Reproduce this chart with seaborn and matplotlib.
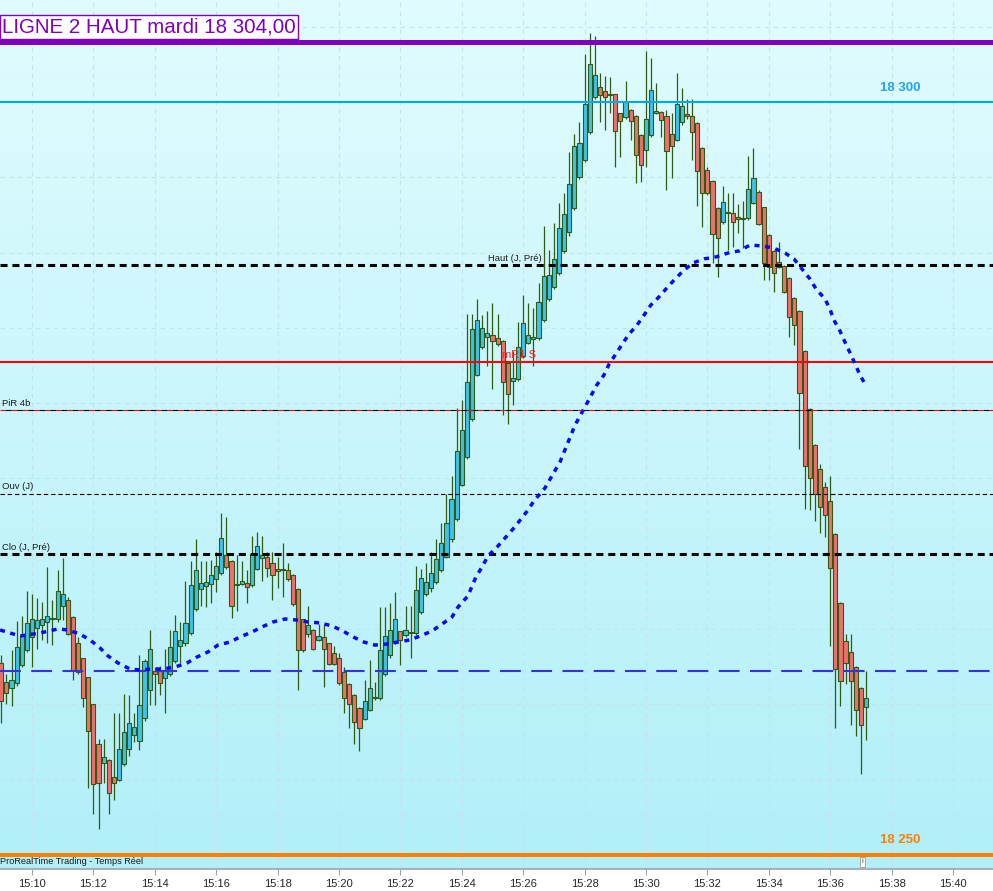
import numpy as np
import pandas as pd
import matplotlib
matplotlib.use("Agg")
import matplotlib.pyplot as plt
import seaborn as sns
from matplotlib.colors import LinearSegmentedColormap
from matplotlib.ticker import FixedLocator, FuncFormatter

# 10 second candles, first one at 15:09:00 (x axis in minutes after 15:00)
START_MIN = 9.0
STEP_MIN = 10 / 60

opens = [
    18262.75, 18261.5, 18261.1, 18261.4, 18262.6, 18263.6, 18264.5, 18265.05, 18265.3, 18265.5,
    18265.65, 18265.65, 18266.55, 18266.95, 18265.8, 18264.05, 18263.05, 18261.8, 18260.0, 18257.35,
    18256.1, 18256.3, 18255.15, 18255.0, 18256.05, 18257.05, 18257.95, 18257.6, 18259.1, 18260.95,
    18262.25, 18262.2, 18261.75, 18262.0, 18262.85, 18263.85, 18264.1, 18264.75, 18266.35, 18267.65,
    18267.85, 18268.0, 18268.3, 18268.75, 18269.95, 18269.55, 18268.0, 18268.0, 18268.05, 18267.9,
    18269.0, 18269.75, 18269.8, 18269.4, 18269.0, 18268.95, 18268.95, 18268.6, 18267.65, 18265.65,
    18264.65, 18264.95, 18264.3, 18264.45, 18264.05, 18263.4, 18263.05, 18262.15, 18261.35, 18260.65,
    18259.75, 18259.05, 18259.65, 18260.4, 18260.4, 18262.0, 18263.25, 18264.1, 18264.85, 18264.6,
    18264.75, 18264.75, 18266.15, 18267.3, 18267.7, 18268.15, 18268.95, 18269.8, 18270.95, 18272.3,
    18274.6, 18276.4, 18278.95, 18281.9, 18283.7, 18284.4, 18284.5, 18284.3, 18284.1, 18282.65,
    18281.5, 18281.6, 18283.1, 18284.0, 18284.25, 18284.3, 18285.55, 18286.95, 18287.7, 18288.65,
    18290.1, 18291.35, 18292.95, 18295.0, 18296.15, 18298.0, 18300.3, 18301.0, 18300.75, 18300.5,
    18300.5, 18299.25, 18299.0, 18299.45, 18299.1, 18297.8, 18296.8, 18297.8, 18299.3, 18299.35,
    18299.05, 18297.85, 18297.5, 18298.65, 18299.2, 18299.1, 18298.6, 18296.95, 18295.5, 18294.75,
    18292.95, 18292.0, 18292.7, 18292.6, 18292.35, 18292.25, 18292.3, 18293.3, 18294.05, 18293.0,
    18291.15, 18290.1, 18289.4, 18289.1, 18288.3, 18287.0, 18286.15, 18283.45, 18279.6, 18277.25,
    18275.6, 18274.45, 18273.5, 18271.3, 18266.75, 18264.2, 18263.5, 18262.5, 18261.1, 18259.85,
]
highs = [
    18263.25, 18262.0, 18263.6, 18265.55, 18265.9, 18267.5, 18267.35, 18267.05, 18266.8, 18269.15,
    18266.9, 18268.9, 18269.7, 18267.15, 18265.9, 18264.5, 18263.1, 18261.85, 18260.05, 18257.7,
    18257.7, 18256.4, 18259.4, 18259.4, 18260.7, 18260.6, 18259.45, 18263.25, 18263.0, 18264.95,
    18262.45, 18262.55, 18263.7, 18264.95, 18265.95, 18265.5, 18268.2, 18269.5, 18270.95, 18269.5,
    18269.5, 18269.6, 18270.15, 18272.7, 18272.45, 18269.6, 18269.95, 18269.5, 18268.95, 18271.2,
    18271.45, 18271.2, 18270.15, 18270.15, 18269.8, 18270.7, 18269.4, 18268.65, 18267.7, 18265.7,
    18266.5, 18265.0, 18265.35, 18265.35, 18264.1, 18263.85, 18263.4, 18262.5, 18261.4, 18260.7,
    18259.85, 18261.65, 18262.95, 18261.5, 18266.45, 18266.45, 18266.7, 18267.45, 18264.9, 18266.5,
    18266.5, 18269.2, 18269.0, 18269.4, 18270.15, 18270.95, 18272.05, 18274.0, 18275.15, 18279.65,
    18280.2, 18285.95, 18285.95, 18286.9, 18285.85, 18286.15, 18286.65, 18285.95, 18284.2, 18282.7,
    18283.45, 18285.4, 18287.2, 18286.65, 18286.3, 18287.95, 18291.75, 18290.2, 18291.95, 18293.3,
    18293.95, 18296.7, 18297.9, 18298.7, 18303.2, 18304.6, 18304.4, 18301.9, 18301.7, 18301.65,
    18300.55, 18299.3, 18301.4, 18299.5, 18299.15, 18297.85, 18303.4, 18302.95, 18301.25, 18299.4,
    18299.45, 18299.25, 18301.9, 18300.9, 18300.2, 18300.2, 18298.65, 18297.0, 18295.65, 18294.8,
    18293.0, 18294.45, 18293.95, 18293.95, 18293.25, 18293.45, 18296.4, 18296.95, 18294.15, 18293.05,
    18291.2, 18290.15, 18290.7, 18289.2, 18288.35, 18287.05, 18286.2, 18283.5, 18279.65, 18277.3,
    18275.95, 18274.75, 18275.15, 18271.35, 18266.8, 18264.7, 18264.7, 18262.55, 18261.15, 18262.2,
]
lows = [
    18258.75, 18260.0, 18259.9, 18261.25, 18262.5, 18263.5, 18262.5, 18263.7, 18264.25, 18264.05,
    18263.95, 18265.5, 18265.6, 18264.6, 18261.6, 18262.0, 18259.85, 18254.45, 18252.75, 18251.7,
    18254.75, 18252.75, 18253.65, 18254.9, 18255.9, 18256.55, 18257.5, 18257.0, 18258.9, 18259.95,
    18259.95, 18260.65, 18259.45, 18261.9, 18262.75, 18262.75, 18263.9, 18264.6, 18266.2, 18266.5,
    18266.45, 18266.75, 18267.45, 18268.6, 18269.0, 18265.75, 18266.2, 18267.9, 18266.75, 18267.8,
    18268.9, 18268.2, 18268.45, 18266.9, 18267.7, 18267.15, 18268.2, 18266.5, 18260.95, 18263.5,
    18264.5, 18263.6, 18264.2, 18261.15, 18262.6, 18262.6, 18261.3, 18259.4, 18258.4, 18257.4,
    18256.9, 18258.95, 18259.55, 18260.3, 18260.3, 18261.9, 18263.1, 18264.0, 18262.6, 18264.5,
    18263.05, 18264.6, 18266.0, 18267.2, 18267.45, 18268.0, 18268.8, 18269.7, 18270.8, 18272.2,
    18274.5, 18276.3, 18278.8, 18281.8, 18283.6, 18282.45, 18280.95, 18283.8, 18279.2, 18278.65,
    18279.9, 18281.5, 18283.0, 18283.9, 18282.45, 18284.2, 18285.4, 18286.8, 18287.6, 18288.5,
    18290.0, 18291.1, 18292.8, 18294.9, 18296.0, 18297.9, 18300.2, 18298.65, 18298.15, 18299.25,
    18295.65, 18296.35, 18298.9, 18297.5, 18294.65, 18294.7, 18295.7, 18297.7, 18299.2, 18297.65,
    18294.15, 18294.95, 18297.4, 18298.5, 18298.9, 18296.15, 18293.1, 18291.7, 18293.85, 18289.3,
    18288.4, 18291.9, 18290.15, 18290.4, 18291.3, 18290.3, 18292.15, 18293.2, 18291.8, 18288.15,
    18288.2, 18287.4, 18288.95, 18287.3, 18284.4, 18283.85, 18276.95, 18272.95, 18272.9, 18272.15,
    18271.4, 18271.1, 18263.9, 18258.4, 18259.9, 18261.35, 18258.65, 18257.9, 18255.4, 18257.65,
]
closes = [
    18260.25, 18260.75, 18261.65, 18263.8, 18264.55, 18265.4, 18265.65, 18265.6, 18265.65, 18265.85,
    18265.7, 18267.5, 18267.3, 18264.65, 18262.3, 18262.15, 18260.45, 18258.2, 18254.7, 18254.8,
    18256.5, 18254.1, 18254.8, 18257.05, 18258.15, 18258.75, 18258.5, 18259.95, 18262.85, 18263.7,
    18262.05, 18261.45, 18262.2, 18263.8, 18264.9, 18264.25, 18265.4, 18267.95, 18268.95, 18268.05,
    18268.1, 18268.6, 18269.2, 18271.05, 18269.15, 18266.5, 18267.95, 18268.2, 18267.8, 18270.0,
    18270.5, 18269.95, 18269.05, 18268.6, 18268.85, 18268.9, 18268.3, 18266.65, 18263.6, 18263.6,
    18265.25, 18263.65, 18264.55, 18263.65, 18262.7, 18262.7, 18261.4, 18260.4, 18260.0, 18258.85,
    18258.4, 18260.2, 18261.1, 18260.45, 18263.6, 18264.55, 18264.95, 18265.65, 18264.25, 18264.95,
    18264.8, 18267.6, 18268.4, 18268.1, 18268.7, 18269.65, 18270.7, 18272.05, 18273.65, 18276.8,
    18278.25, 18281.4, 18284.9, 18285.55, 18285.0, 18284.65, 18284.1, 18283.9, 18281.4, 18280.6,
    18281.65, 18283.7, 18285.35, 18284.5, 18284.4, 18286.75, 18288.45, 18288.5, 18289.55, 18291.6,
    18292.55, 18294.55, 18297.05, 18297.25, 18299.85, 18302.55, 18301.8, 18300.45, 18300.3, 18300.45,
    18298.05, 18298.75, 18300.0, 18298.75, 18296.5, 18295.8, 18298.85, 18300.8, 18299.4, 18298.8,
    18296.75, 18297.1, 18299.85, 18299.75, 18299.1, 18298.0, 18295.4, 18293.95, 18293.95, 18291.25,
    18291.0, 18293.35, 18292.6, 18292.0, 18292.2, 18292.3, 18294.25, 18294.95, 18291.9, 18289.3,
    18289.05, 18288.65, 18289.05, 18287.4, 18285.75, 18285.2, 18280.7, 18275.8, 18275.0, 18273.95,
    18273.1, 18272.55, 18269.05, 18262.35, 18261.55, 18262.75, 18261.55, 18259.6, 18258.6, 18260.45,
]

# dotted moving average, read point by point
ma_minutes = [
    8.96, 9.61, 10.26, 10.85, 11.17, 11.56, 11.89, 12.22, 12.48, 12.80, 13.19, 13.52, 13.91,
    14.27, 14.66, 15.05, 15.38, 15.73, 16.06, 16.45, 16.78, 17.17, 17.49, 17.85, 18.24, 18.63,
    18.99, 19.38, 19.77, 20.13, 20.46, 20.81, 21.17, 21.56, 21.92, 22.31, 22.64, 23.03, 23.36,
    23.68, 23.88, 24.20, 24.46, 24.66, 24.85, 25.15, 25.41, 25.67, 25.93, 26.16, 26.35, 26.71,
    27.20, 27.69, 28.40, 28.63, 28.80, 29.02, 29.25, 29.45, 29.71, 29.94, 30.16, 30.42, 30.68,
    30.95, 31.21, 31.53, 31.89, 32.28, 32.67, 33.03, 33.39, 33.78, 34.14, 34.53, 34.82, 35.08,
    35.34, 35.54, 35.83, 35.99, 36.12, 36.32, 36.48, 36.65, 36.81, 36.97, 37.17,
]
ma_values = [
    18264.94, 18264.54, 18264.74, 18265.01, 18264.94, 18264.67, 18264.28, 18263.74, 18263.21,
    18262.75, 18262.35, 18262.28, 18262.35, 18262.35, 18262.48, 18262.75, 18263.15, 18263.48,
    18263.94, 18264.14, 18264.48, 18264.81, 18265.14, 18265.47, 18265.67, 18265.60, 18265.47,
    18265.41, 18265.21, 18264.87, 18264.48, 18264.14, 18263.94, 18264.01, 18264.14, 18264.28,
    18264.54, 18264.87, 18265.34, 18265.80, 18266.47, 18267.20, 18268.46, 18269.12, 18269.85,
    18270.45, 18271.05, 18271.65, 18272.31, 18272.91, 18273.51, 18274.37, 18276.10, 18278.55,
    18281.21, 18281.87, 18282.60, 18283.27, 18284.00, 18284.59, 18285.19, 18285.86, 18286.52,
    18287.05, 18287.65, 18288.25, 18288.78, 18289.31, 18289.58, 18289.71, 18289.97, 18290.11,
    18290.50, 18290.44, 18290.31, 18289.97, 18289.58, 18288.91, 18288.25, 18287.58, 18286.92,
    18286.26, 18285.52, 18284.79, 18284.06, 18283.33, 18282.60, 18281.87, 18281.14,
]

# horizontal levels
level_ligne2 = 18304.0
level_18300 = 18300.0
level_haut = 18289.18
level_mr1 = 18282.74
level_piv = 18279.55
level_ouv = 18274.0
level_clo = 18270.0
level_blue = 18262.22
level_18250 = 18250.0

tick_minutes = list(range(10, 42, 2))

XLIM = (8.958, 41.303)
YLIM = (18249.07, 18306.77)

UP = "#3ec2ec"
DOWN = "#f26e6e"
EDGE = "#2f5c12"

sns.set_style("white", rc={"axes.facecolor": "none"})
plt.rcParams["font.family"] = ["Liberation Sans", "DejaVu Sans"]

fig = plt.figure(figsize=(9.93, 8.91), dpi=100)
fig.patch.set_facecolor("white")
ax = fig.add_axes([0, 22 / 891, 1, 869 / 891])
ax.set_xlim(*XLIM)
ax.set_ylim(*YLIM)

# gradient background
grad = np.linspace(0, 1, 256).reshape(-1, 1)
bg = LinearSegmentedColormap.from_list("bg", ["#b2eff9", "#e0fcfe"])
ax.imshow(grad, aspect="auto", cmap=bg, origin="lower",
          extent=[XLIM[0], XLIM[1], YLIM[0], YLIM[1]], zorder=0)

# light dashed grid
for m in tick_minutes:
    ax.axvline(m, color="#c4e2ea", lw=0.8, ls=(0, (4, 4)), zorder=1)
for p in np.arange(18255, 18306, 5):
    ax.axhline(p, color="#c4e2ea", lw=0.8, ls=(0, (4, 4)), zorder=1)

# candles
df = pd.DataFrame({"open": opens, "high": highs, "low": lows, "close": closes})
df["t"] = START_MIN + np.arange(len(df)) * STEP_MIN
up = df["close"] >= df["open"]
body = (df["close"] - df["open"]).abs().clip(lower=0.06)
base = df[["open", "close"]].min(axis=1)
ax.vlines(df["t"], df["low"], df["high"], color=EDGE, lw=0.9, zorder=3)
ax.bar(df["t"][up], body[up], bottom=base[up], width=0.135,
       color=UP, edgecolor=EDGE, lw=0.8, zorder=4)
ax.bar(df["t"][~up], body[~up], bottom=base[~up], width=0.135,
       color=DOWN, edgecolor=EDGE, lw=0.8, zorder=4)

# reference lines
ax.axhline(level_ligne2, color="#7f00bf", lw=3.6, zorder=5)
ax.axhline(level_18300, color="#00a8ec", lw=1.5, zorder=5)
ax.axhline(level_haut, color="black", lw=2.2, ls=(0, (2.3, 1.6)), zorder=5)
ax.axhline(level_mr1, color="#ff0000", lw=1.5, zorder=5)
ax.axhline(level_piv, color="#ff0000", lw=0.8, ls=(0, (5, 5)), zorder=5)
ax.axhline(level_piv, color="black", lw=0.8, ls=(5, (5, 5)), zorder=5)
ax.axhline(level_ouv, color="black", lw=0.8, ls=(0, (4, 2.5)), zorder=5)
ax.axhline(level_clo, color="black", lw=2.2, ls=(0, (2.3, 1.6)), zorder=5)
ax.axhline(level_blue, color="#3434dc", lw=1.5, ls=(0, (10, 5)), zorder=5)
ax.axhline(level_18250, color="#ff8000", lw=2.9, zorder=5)

# moving average
ma = pd.DataFrame({"t": ma_minutes, "v": ma_values})
sns.lineplot(data=ma, x="t", y="v", ax=ax, color="#0a0aee", lw=2.5,
             sort=False, estimator=None, zorder=6)
ax.lines[-1].set_linestyle((0, (1.45, 1.6)))

# labels
lab = dict(fontsize=6.8, color="#1c1c1c", zorder=7)
ax.text(24.85, level_haut + 0.15, "Haut (J, Pré)", va="bottom", **lab)
ax.text(9.02, level_piv + 0.15, "PiR 4b", va="bottom", **lab)
ax.text(9.02, level_ouv + 0.15, "Ouv (J)", va="bottom", **lab)
ax.text(9.02, level_clo + 0.15, "Clo (J, Pré)", va="bottom", **lab)
ax.text(25.31, level_mr1 + 0.1, "mR1 S", va="bottom", fontsize=8, color="#ff2020", zorder=8)
ax.text(38.27, 18300.93, "18 300", ha="center", va="center", fontsize=9.5,
        fontweight="bold", color="#22a6e8", zorder=7)
ax.text(38.27, 18251.0, "18 250", ha="center", va="center", fontsize=9.5,
        fontweight="bold", color="#ff8000", zorder=7)
ax.text(8.96, 18249.55, "ProRealTime Trading - Temps Réel", va="center",
        fontsize=6.6, color="#1c1c1c", zorder=7)
ax.text(37.04, 18249.55, "i", ha="center", va="center", fontsize=6, color="#555555",
        bbox=dict(boxstyle="square,pad=0.2", fc="white", ec="#999999", lw=0.6), zorder=7)
ax.text(9.02, 18304.98, "LIGNE 2 HAUT mardi 18 304,00", va="center", fontsize=14.8,
        color="#7f00bf", zorder=8,
        bbox=dict(boxstyle="square,pad=0.1", fc="white", ec="#7f00bf", lw=1.0))

# axis
ax.xaxis.set_major_locator(FixedLocator(tick_minutes))
ax.xaxis.set_major_formatter(FuncFormatter(lambda m, _: f"15:{int(round(m)):02d}"))
ax.tick_params(axis="x", length=4, width=0.8, color="#9aa4ac", labelsize=8,
               pad=3, bottom=True)
ax.set_yticks([])
ax.set_xlabel("")
ax.set_ylabel("")
for side in ["top", "right", "left"]:
    ax.spines[side].set_visible(False)
ax.spines["bottom"].set_color("#a8b0b8")
ax.spines["bottom"].set_linewidth(1.5)

fig.savefig("out.png", dpi=100, facecolor=fig.get_facecolor())
